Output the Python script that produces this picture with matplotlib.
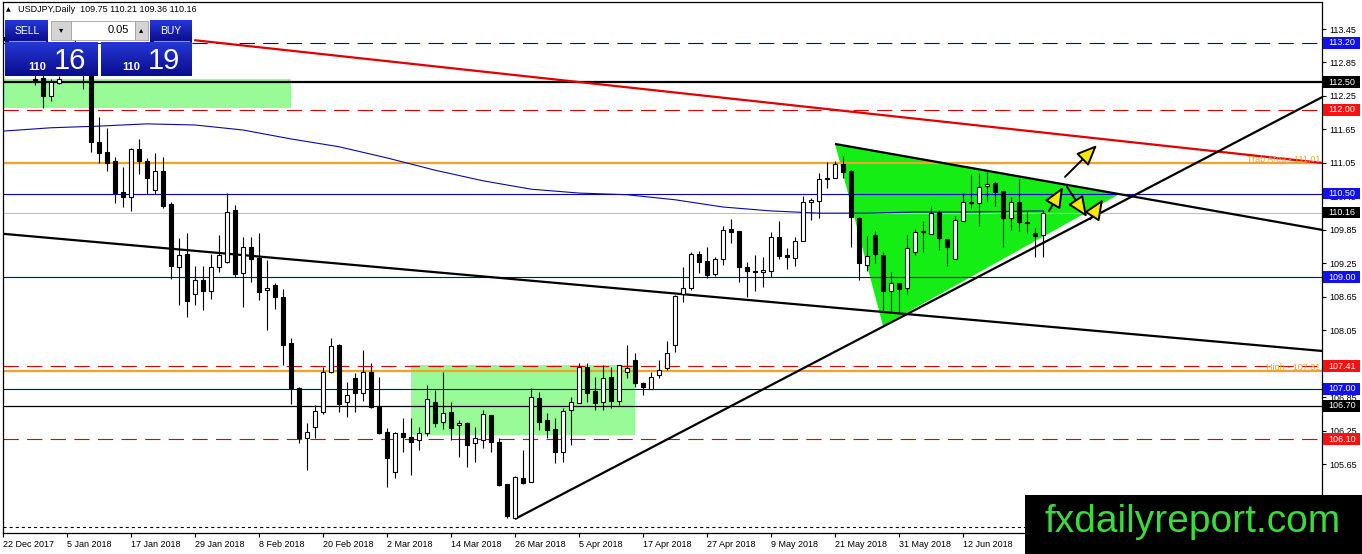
import matplotlib
matplotlib.use('Agg')
import matplotlib.pyplot as plt
import matplotlib.transforms as mtransforms
from matplotlib.patches import Rectangle, Polygon
import numpy as np

plt.rcParams['font.family'] = ['Liberation Sans', 'DejaVu Sans']
plt.rcParams['lines.scale_dashes'] = False

# daily USDJPY candles, 22 Dec 2017 .. 26 Jun 2018
opens = [113.30, 113.25, 113.20, 113.00, 112.55, 112.57, 112.25, 112.48, 112.65, 113.10,
         113.12, 112.62, 111.43, 111.25, 111.08, 110.53, 110.44, 111.30, 111.08, 110.57,
         110.91, 110.31, 109.18, 109.42, 108.70, 108.95, 108.76, 109.18, 109.27, 110.21,
         109.08, 109.54, 109.35, 108.78, 108.86, 108.65, 107.82, 107.02, 106.12, 106.32,
         106.59, 107.30, 107.79, 106.77, 107.20, 106.93, 107.30, 106.68, 106.23, 105.51,
         106.21, 106.14, 106.09, 106.21, 106.77, 106.41, 106.59, 106.36, 106.39, 106.03,
         106.09, 106.53, 106.05, 105.30, 104.69, 105.40, 105.33, 106.84, 106.44, 106.28,
         105.87, 106.62, 106.75, 107.39, 106.96, 106.77, 107.21, 106.79, 107.30, 107.52,
         107.11, 106.99, 107.25, 107.37, 107.79, 108.70, 108.81, 109.42, 109.29, 109.06,
         109.33, 109.87, 109.83, 109.18, 109.11, 109.09, 109.11, 109.72, 109.40, 109.35,
         109.65, 110.35, 110.37, 110.76, 110.78, 111.03, 110.91, 110.06, 109.22, 109.76,
         109.40, 108.76, 108.90, 108.81, 109.45, 109.81, 109.78, 110.17, 109.69, 109.33,
         110.01, 110.35, 110.33, 110.64, 110.69, 110.55, 110.06, 110.35, 109.99, 109.79,
         109.75]
highs = [113.45, 113.40, 113.35, 113.10, 112.70, 112.65, 112.55, 112.60, 113.20, 113.38,
         113.20, 112.66, 111.87, 111.68, 111.16, 110.98, 111.32, 111.48, 111.14, 111.23,
         111.16, 110.35, 109.70, 109.79, 109.20, 109.20, 109.42, 109.76, 110.51, 110.30,
         109.72, 109.72, 109.79, 109.31, 108.90, 108.79, 107.91, 107.04, 106.39, 106.71,
         107.39, 107.91, 107.80, 107.12, 107.29, 107.70, 107.46, 107.21, 106.30, 106.23,
         106.48, 106.48, 106.32, 107.07, 106.98, 107.30, 106.77, 106.45, 106.41, 106.32,
         106.62, 106.53, 106.12, 105.30, 105.44, 105.91, 107.02, 106.95, 106.57, 106.48,
         106.66, 106.86, 107.46, 107.46, 107.21, 107.43, 107.39, 107.43, 107.79, 107.64,
         107.12, 107.30, 107.52, 107.86, 108.68, 109.18, 109.45, 109.47, 109.54, 109.36,
         109.92, 110.05, 109.83, 109.27, 109.40, 109.36, 109.81, 110.01, 109.52, 109.72,
         110.46, 110.42, 110.87, 111.07, 111.08, 111.17, 110.92, 110.08, 109.74, 109.83,
         109.45, 109.10, 108.90, 109.76, 109.87, 110.01, 110.28, 110.21, 109.69, 110.10,
         110.51, 110.85, 110.87, 110.89, 110.71, 110.55, 110.44, 110.76, 110.21, 109.88,
         110.21]
lows = [113.15, 113.05, 112.95, 112.68, 112.45, 112.03, 112.16, 112.46, 112.63, 112.95,
        112.37, 111.25, 111.05, 110.91, 110.33, 110.26, 110.19, 110.85, 110.50, 110.49,
        110.24, 108.97, 108.50, 108.29, 108.50, 108.41, 108.61, 109.10, 109.25, 109.01,
        108.47, 108.92, 108.59, 108.06, 108.43, 107.43, 106.73, 106.03, 105.55, 106.12,
        106.55, 107.29, 106.59, 106.50, 106.59, 106.79, 106.66, 106.19, 105.24, 105.40,
        105.87, 105.46, 105.91, 106.16, 106.32, 106.28, 106.09, 105.78, 105.60, 105.69,
        105.94, 105.87, 105.26, 104.69, 104.67, 105.30, 105.33, 106.27, 106.12, 105.67,
        105.69, 106.00, 106.75, 106.77, 106.62, 106.62, 106.66, 106.71, 107.20, 107.04,
        106.89, 106.99, 107.20, 107.34, 107.66, 108.56, 108.77, 109.08, 108.99, 109.02,
        109.22, 109.61, 108.92, 108.65, 108.76, 108.83, 109.01, 109.33, 109.15, 109.20,
        109.65, 110.03, 110.06, 110.60, 110.78, 110.78, 109.54, 108.95, 109.11, 109.26,
        108.38, 108.38, 108.38, 108.70, 109.40, 109.45, 109.78, 109.49, 109.20, 109.33,
        110.01, 110.24, 109.92, 110.37, 110.28, 109.54, 109.85, 109.83, 109.79, 109.36,
        109.36]
closes = [113.25, 113.20, 113.00, 112.75, 112.52, 112.25, 112.50, 112.55, 113.10, 113.12,
          112.62, 111.43, 111.23, 111.05, 110.51, 110.44, 111.30, 111.08, 110.78, 110.91,
          110.28, 109.20, 109.40, 108.58, 108.95, 108.76, 109.18, 109.40, 110.17, 109.06,
          109.54, 109.33, 108.74, 108.81, 108.65, 107.79, 107.02, 106.12, 106.23, 106.60,
          107.30, 107.77, 106.73, 106.89, 106.93, 107.30, 106.68, 106.21, 105.76, 106.21,
          106.14, 106.05, 106.21, 106.82, 106.39, 106.57, 106.30, 106.39, 106.00, 106.12,
          106.55, 106.05, 105.28, 104.72, 105.42, 105.31, 106.86, 106.41, 106.27, 105.87,
          106.61, 106.77, 107.39, 106.93, 106.75, 107.20, 106.79, 107.43, 107.37, 107.11,
          107.04, 107.21, 107.34, 107.64, 108.67, 108.81, 109.42, 109.27, 109.04, 109.33,
          109.85, 109.81, 109.18, 109.11, 109.09, 109.13, 109.72, 109.38, 109.36, 109.65,
          110.35, 110.39, 110.76, 110.78, 111.03, 110.89, 110.08, 109.26, 109.38, 109.42,
          108.76, 108.90, 108.79, 109.52, 109.81, 109.83, 110.15, 109.70, 109.54, 110.03,
          110.35, 110.33, 110.62, 110.67, 110.53, 110.06, 110.35, 109.99, 109.97, 109.74,
          110.16]

# moving average (sampled bar index, value)
ma_idx = [0, 6, 12, 18, 24, 30, 36, 42, 48, 54, 60, 66, 72, 78, 84, 90, 96, 102, 108, 114, 120, 130]
ma_val = [111.62, 111.68, 111.71, 111.75, 111.73, 111.64, 111.48, 111.34, 111.14, 110.92,
          110.73, 110.58, 110.51, 110.48, 110.39, 110.26, 110.19, 110.15, 110.15, 110.17,
          110.17, 110.19]

date_idx = list(range(0, 121, 8))
date_labels = ['22 Dec 2017', '5 Jan 2018', '17 Jan 2018', '29 Jan 2018', '8 Feb 2018',
               '20 Feb 2018', '2 Mar 2018', '14 Mar 2018', '26 Mar 2018', '5 Apr 2018',
               '17 Apr 2018', '27 Apr 2018', '9 May 2018', '21 May 2018', '31 May 2018',
               '12 Jun 2018']

ytick_vals = [105.05, 105.65, 106.25, 106.85, 107.45, 108.05, 108.65, 109.25, 109.85,
              110.45, 111.05, 111.65, 112.25, 112.85, 113.45]

# horizontal levels: price, colour, style, width
levels = [(113.20, '#0000C8', 'dash', 0.8),
          (112.50, 'black', 'solid', 1.6),
          (112.00, '#DD0000', 'dash', 0.8),
          (111.05, '#F0A22E', 'solid', 1.6),
          (110.50, '#0000C8', 'solid', 0.8),
          (110.16, '#C0C0C0', 'solid', 0.8),
          (109.00, '#0000C8', 'solid', 0.8),
          (107.41, '#DD0000', 'dash', 0.8),
          (107.32, '#F0A22E', 'solid', 1.6),
          (107.00, '#0000C8', 'solid', 0.8),
          (106.70, 'black', 'solid', 0.9),
          (106.10, '#DD0000', 'dash', 0.8),
          (104.53, 'black', 'dot', 0.8)]

price_tags = [(113.20, '#1010F0'), (112.50, 'black'), (112.00, '#FF1010'), (110.50, '#1010F0'),
              (110.16, 'black'), (109.00, '#1010F0'), (107.41, '#FF1010'), (107.00, '#1010F0'),
              (106.70, 'black'), (106.10, '#FF1010')]

# trend lines (index, price) pairs
red_line = ([23.9, 164.9], [113.25, 111.05])
long_down = ([0, 164.9], [109.78, 107.68])
up_line = ([64, 164.9], [104.67, 112.23])
tri_top = ([104, 164.9], [111.39, 109.85])
triangle = [(104, 111.39), (139.4, 110.48), (110, 108.13)]
boxes = [(0, 36, 112.03, 112.55), (51, 79, 106.17, 107.43)]
arrows = [((130.75, 110.19), (132.5, 110.62)),
          ((132.75, 110.80), (136.75, 111.37)),
          ((133.0, 110.62), (135.5, 110.08)),
          ((135.9, 110.04), (137.5, 110.40))]

W, H = 1362, 554
fig = plt.figure(figsize=(W / 100, H / 100), dpi=100)
ax = fig.add_axes([3 / W, 1 - 533 / H, 1319 / W, 531 / H])
ax.set_xlim(0, 164.875)
ax.set_ylim(104.418, 113.934)

for x0, x1, y0, y1 in boxes:
    ax.add_patch(Rectangle((x0, y0), x1 - x0, y1 - y0, fc='#98FB98', ec='none', zorder=1))
ax.add_patch(Polygon(triangle, closed=True, fc='#14EE14', ec='none', zorder=1))

dash_map = {'dash': (0, (11, 6)), 'dot': (0, (2.2, 2.2)), 'solid': '-'}
for p, c, st, lw in levels:
    ax.axhline(p, color=c, ls=dash_map[st], lw=lw, zorder=2)

ax.plot(ma_idx, ma_val, color='#0A0AA0', lw=0.8, zorder=2)

ax.plot(*red_line, color='#E00000', lw=1.6, zorder=3, solid_capstyle='butt')
for ln in (long_down, up_line, tri_top):
    ax.plot(*ln, color='black', lw=1.6, zorder=3, solid_capstyle='butt')

for i, (o, h, l, c) in enumerate(zip(opens, highs, lows, closes)):
    ax.vlines(i, l, h, color='black', lw=0.8, zorder=5)
    fc = 'white' if c >= o else 'black'
    ax.add_patch(Rectangle((i - 0.3, min(o, c)), 0.6, max(abs(c - o), 0.012),
                           fc=fc, ec='black', lw=0.8, zorder=6))

for tail, head in arrows:
    ax.annotate('', xy=head, xytext=tail, zorder=8,
                arrowprops=dict(arrowstyle='-|>,head_length=1.4,head_width=0.6',
                                fc='#FFE600', ec='black', lw=1.4, mutation_scale=9,
                                shrinkA=0, shrinkB=0))

trans = mtransforms.blended_transform_factory(ax.transAxes, ax.transData)
ax.text(0.9985, 111.12, 'Trab Area - 111.01', transform=trans,
        ha='right', va='center', fontsize=6.5, color='#F0A22E', zorder=4)
ax.text(0.9985, 107.38, 'High - 107.31', transform=trans,
        ha='right', va='center', fontsize=6.5, color='#F0A22E', zorder=4)

# axes styling
ax.yaxis.tick_right()
ax.set_yticks(ytick_vals)
ax.set_yticklabels(['%.2f' % v for v in ytick_vals], fontsize=6.5)
ax.set_xticks(date_idx)
ax.set_xticklabels(date_labels, fontsize=6.5, ha='left')
ax.tick_params(axis='both', length=3, width=0.8, pad=2, colors='black')
for s in ax.spines.values():
    s.set_linewidth(0.9)
    s.set_color('black')

for p, c in price_tags:
    ax.add_patch(Rectangle((1.0008, p - 0.105), 0.0282, 0.21, transform=trans, clip_on=False,
                           fc=c, ec='none', zorder=10))
    ax.text(1.0149, p, '%.2f' % p, transform=trans, ha='center', va='center', fontsize=6.5,
            color='white', zorder=11, clip_on=False)

# overlay in pixel space for the terminal widgets and logo
ov = fig.add_axes([0, 0, 1, 1], zorder=20)
ov.axis('off')

ov.text(6, 10, '\u25b2', fontsize=4.5, va='center', ha='left', family='DejaVu Sans')
ov.text(18, 10, 'USDJPY,Daily  109.75 110.21 109.36 110.16', fontsize=6.5, va='center', ha='left')

grad = np.linspace(0, 1, 50).reshape(-1, 1)
blue_cmap = matplotlib.colors.LinearSegmentedColormap.from_list('b', ['#2438D8', '#0A0C8A'])
for x0, x1, y0, y1 in [(5, 48, 20, 42), (150, 192, 20, 42), (5, 98, 42, 76), (101, 192, 42, 76)]:
    ov.imshow(grad, extent=(x0, x1, y1, y0), cmap=blue_cmap, aspect='auto', zorder=1)
ov.plot([9, 45], [41, 41], color='#8090E8', lw=0.8)
ov.plot([154, 189], [41, 41], color='#8090E8', lw=0.8)
ov.add_patch(Rectangle((51, 21), 20, 19, fc='#D4D4D4', ec='#A0A0A0', lw=0.6, zorder=2))
ov.add_patch(Rectangle((71, 21), 64, 19, fc='white', ec='#A0A0A0', lw=0.6, zorder=2))
ov.add_patch(Rectangle((135, 21), 13, 19, fc='#D4D4D4', ec='#A0A0A0', lw=0.6, zorder=2))
ov.text(61, 30, '\u25be', fontsize=6, ha='center', va='center', family='DejaVu Sans', zorder=3)
ov.text(141.5, 30, '\u25b4', fontsize=6, ha='center', va='center', family='DejaVu Sans', zorder=3)
ov.text(129, 30, '0.05', fontsize=8, ha='right', va='center', zorder=3)
ov.text(27, 31, 'SELL', fontsize=7.5, ha='center', va='center', color='white', zorder=3)
ov.text(171, 31, 'BUY', fontsize=7.5, ha='center', va='center', color='white', zorder=3)
ov.text(28, 70, '110', fontsize=8, weight='bold', ha='left', va='baseline', color='white', zorder=3)
ov.text(54, 69, '16', fontsize=21, ha='left', va='baseline', color='white', zorder=3)
ov.text(122, 70, '110', fontsize=8, weight='bold', ha='left', va='baseline', color='white', zorder=3)
ov.text(148, 69, '19', fontsize=21, ha='left', va='baseline', color='white', zorder=3)

ov.add_patch(Rectangle((1025, 495), 337, 59, fc='black', ec='none', zorder=2))
ov.text(1193, 522, 'fxdailyreport.com', fontsize=28, color='#3ADB3A', ha='center', va='center', zorder=3)

ov.set_xlim(0, W)
ov.set_ylim(H, 0)

fig.savefig('out.png', dpi=100)
